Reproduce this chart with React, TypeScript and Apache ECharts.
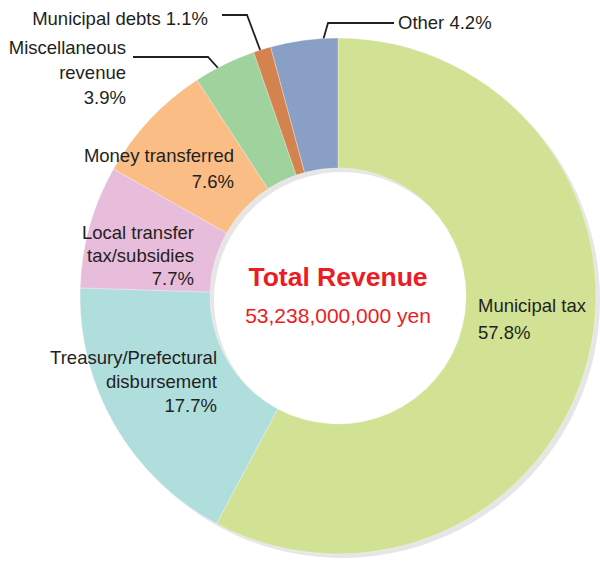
import React, { useEffect, useRef } from "react";
import * as echarts from "echarts";

const categories = [
  "Municipal tax",
  "Treasury/Prefectural\ndisbursement",
  "Local transfer\ntax/subsidies",
  "Money transferred",
  "Miscellaneous\nrevenue",
  "Municipal debts",
  "Other",
];
const shares = [57.8, 17.7, 7.7, 7.6, 3.9, 1.1, 4.2];
const colors = ["#d2e294", "#b0dedd", "#e8bddb", "#fabd86", "#9fd29c", "#d4834e", "#8a9fc5"];
const inlineLabels = ["Municipal debts", "Other"];
const centerTitle = "Total Revenue";
const centerAmount = "53,238,000,000 yen";

// label placement (layout only)
const labelPlacement: Record<string, any> = {
  "Municipal tax": { x: 478, y: 319, align: "left", lh: 27 },
  "Treasury/Prefectural\ndisbursement": { x: 217, y: 381, align: "right", lh: 24 },
  "Local transfer\ntax/subsidies": { x: 194, y: 255, align: "right", lh: 23 },
  "Money transferred": { x: 234, y: 168, align: "right", lh: 26 },
  "Miscellaneous\nrevenue": { x: 126, y: 72, align: "right", lh: 25, line: [[227, 78], [208, 57], [133, 57]] },
  "Municipal debts": { x: 208, y: 18, align: "right", lh: 22, line: [[262, 55], [247, 15], [222, 15]] },
  Other: { x: 398, y: 22, align: "left", lh: 22, line: [[318, 58], [328, 23], [394, 23]] },
};

const FONT = '"Liberation Sans", Arial, Helvetica, sans-serif';
const CX = 338;
const CY = 296;

export default function App() {
  const ref = useRef<HTMLDivElement>(null);
  useEffect(() => {
    document.body.style.margin = "0";
    if (!ref.current) return;
    const chart = echarts.init(ref.current, null, { renderer: "svg" });
    const data = categories.map((name, i) => {
      const p = labelPlacement[name];
      return {
        name,
        value: shares[i],
        itemStyle: { color: colors[i] },
        label: { lineHeight: p.lh },
        labelLine: { show: !!p.line },
      };
    });
    const option: any = {
      animation: false,
      backgroundColor: "#ffffff",
      series: [
        {
          type: "pie",
          silent: true,
          center: [CX + 4, CY + 4],
          radius: [128, 258],
          startAngle: 90,
          label: { show: false },
          labelLine: { show: false },
          itemStyle: { color: "#e6e6e6" },
          data: shares.map((v, i) => ({ name: categories[i], value: v })),
        },
        {
          type: "pie",
          center: [CX, CY],
          radius: [128, 258],
          startAngle: 90,
          clockwise: true,
          avoidLabelOverlap: false,
          itemStyle: { borderColor: "rgba(255,255,255,0.6)", borderWidth: 0.5 },
          label: {
            show: true,
            position: "outside",
            fontFamily: FONT,
            fontSize: 18.5,
            color: "#231f20",
            formatter: (p: any) =>
              p.name + (inlineLabels.includes(p.name) ? " " : "\n") + p.value + "%",
          },
          labelLine: {
            show: false,
            lineStyle: { color: "#231f20", width: 1.8 },
          },
          labelLayout: (params: any) => {
            if (params.seriesIndex !== 1) return {};
            const name = categories[params.dataIndex];
            const p = labelPlacement[name];
            const res: any = {
              x: p.x,
              y: p.y,
              align: p.align,
              verticalAlign: "middle",
            };
            if (p.line) res.labelLinePoints = p.line;
            return res;
          },
          data,
        },
      ],
      graphic: [
        {
          type: "text",
          x: CX,
          y: 277,
          style: {
            text: centerTitle,
            fill: "#ed1c24",
            font: `bold 26.5px ${FONT}`,
            textAlign: "center",
            textVerticalAlign: "middle",
          },
        },
        {
          type: "text",
          x: CX,
          y: 315,
          style: {
            text: centerAmount,
            fill: "#ed1c24",
            font: `21px ${FONT}`,
            textAlign: "center",
            textVerticalAlign: "middle",
          },
        },
      ],
    };
    chart.setOption(option);
    return () => chart.dispose();
  }, []);
  return <div ref={ref} style={{ width: 600, height: 561 }} />;
}
